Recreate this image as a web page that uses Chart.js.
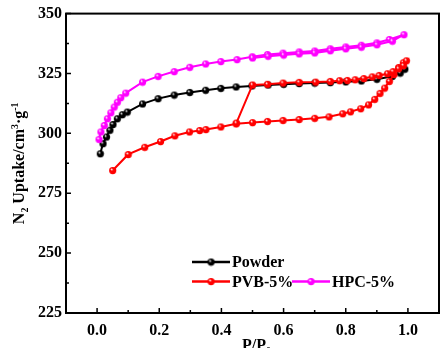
<!DOCTYPE html>
<html>
<head>
<meta charset="utf-8">
<script src="https://cdn.jsdelivr.net/npm/chart.js@4.4.0/dist/chart.umd.min.js"></script>
<style>
    html, body { margin: 0; padding: 0; background: #fff; }
    #wrap { width: 446px; height: 348px; }
</style>
</head>
<body>
<div id="wrap"><canvas id="isothermChart" width="446" height="348"></canvas></div>
<script>
// Powder - adsorption branch
const powderP = [0.01, 0.019, 0.03, 0.041, 0.051, 0.065, 0.081, 0.097, 0.146, 0.196, 0.248, 0.298, 0.349, 0.398, 0.447, 0.498, 0.55, 0.6, 0.65, 0.7, 0.75, 0.8, 0.85, 0.9, 0.95, 0.975, 0.99];
const powderQ = [291.5, 295.7, 298.5, 301.3, 303.7, 306.1, 307.8, 308.9, 312.3, 314.5, 316.0, 317.1, 318.0, 318.8, 319.4, 319.8, 320.2, 320.5, 320.8, 321.0, 321.2, 321.5, 321.9, 322.6, 323.8, 325.2, 326.8];

// PVB-5% - adsorption (lower) then desorption (upper)
const pvbAdsP = [0.05, 0.10, 0.153, 0.204, 0.25, 0.297, 0.33, 0.35, 0.398, 0.447, 0.5, 0.548, 0.598, 0.65, 0.70, 0.746, 0.79, 0.815, 0.848, 0.873, 0.893, 0.91, 0.925, 0.94, 0.955, 0.97, 0.985, 0.995];
const pvbAdsQ = [284.5, 291.2, 294.2, 296.6, 299.0, 300.6, 301.2, 301.6, 302.7, 304.0, 304.5, 305.0, 305.4, 305.8, 306.3, 306.9, 308.2, 309.0, 310.3, 311.9, 314.2, 316.7, 318.9, 321.7, 324.6, 327.5, 329.5, 330.3];
const pvbDesP = [0.985, 0.97, 0.952, 0.934, 0.907, 0.885, 0.858, 0.83, 0.805, 0.78, 0.75, 0.703, 0.65, 0.598, 0.548, 0.5, 0.448];
const pvbDesQ = [328.3, 327.0, 325.8, 324.9, 324.2, 323.6, 322.9, 322.4, 322.1, 322.0, 321.7, 321.4, 321.3, 321.0, 320.5, 320.2, 304.3];

// HPC-5% - adsorption then desorption
const hpcAdsP = [0.006, 0.012, 0.023, 0.033, 0.044, 0.055, 0.065, 0.076, 0.092, 0.146, 0.196, 0.248, 0.298, 0.349, 0.398, 0.45, 0.499, 0.548, 0.598, 0.65, 0.70, 0.75, 0.80, 0.85, 0.9, 0.94, 0.987];
const hpcAdsQ = [297.5, 300.6, 303.3, 306.1, 308.6, 311.0, 313.0, 314.9, 316.8, 321.4, 323.8, 325.8, 327.6, 329.0, 330.0, 330.8, 332.0, 332.9, 333.5, 334.0, 334.4, 335.3, 336.1, 336.8, 337.8, 339.2, 341.2];
const hpcDesP = [0.95, 0.9, 0.85, 0.8, 0.75, 0.7, 0.65, 0.6, 0.55, 0.5];
const hpcDesQ = [338.5, 337.0, 336.0, 335.3, 334.5, 333.6, 333.2, 332.7, 332.2, 331.5];

// Axis ticks
const xTicks = [0, 0.2, 0.4, 0.6, 0.8, 1.0];
const xMinorTicks = [0.1, 0.3, 0.5, 0.7, 0.9];
const yTicks = [225, 250, 275, 300, 325, 350];
const yMinorTicks = [237.5, 262.5, 287.5, 312.5, 337.5];

const serif = "'Liberation Serif', 'Times New Roman', serif";

function toPoints(xs, ys) {
    return xs.map((x, i) => ({ x: x, y: ys[i] }));
}

// Shaded ball marker like the original plot
function makeBall(color, r) {
    const c = document.createElement('canvas');
    c.width = c.height = r * 2 + 2;
    const g = c.getContext('2d');
    const cx = r + 1, cy = r + 1;
    const grad = g.createRadialGradient(cx - r * 0.35, cy - r * 0.4, 0.3, cx, cy, r);
    grad.addColorStop(0, '#ffffff');
    grad.addColorStop(0.35, color);
    grad.addColorStop(1, color);
    g.fillStyle = grad;
    g.beginPath();
    g.arc(cx, cy, r, 0, Math.PI * 2);
    g.fill();
    return c;
}

const series = [
    { label: 'Powder', color: '#000000', data: toPoints(powderP, powderQ), order: 3 },
    { label: 'PVB-5%', color: '#ff0000', data: toPoints(pvbAdsP.concat(pvbDesP), pvbAdsQ.concat(pvbDesQ)), order: 1 },
    { label: 'HPC-5%', color: '#ff00ff', data: toPoints(hpcAdsP.concat(hpcDesP), hpcAdsQ.concat(hpcDesQ)), order: 2 }
];

// Frame and inward ticks
const frameTicks = {
    id: 'frameTicks',
    afterDatasetsDraw(chart) {
        const { ctx, chartArea: a, scales: { x, y } } = chart;
        ctx.save();
        ctx.strokeStyle = '#000';
        ctx.lineWidth = 2;
        ctx.strokeRect(a.left, a.top, a.right - a.left, a.bottom - a.top);
        ctx.lineWidth = 1.5;
        ctx.beginPath();
        xTicks.forEach(v => { const p = x.getPixelForValue(v); ctx.moveTo(p, a.bottom); ctx.lineTo(p, a.bottom - 5); });
        xMinorTicks.forEach(v => { const p = x.getPixelForValue(v); ctx.moveTo(p, a.bottom); ctx.lineTo(p, a.bottom - 3); });
        yTicks.forEach(v => { const p = y.getPixelForValue(v); ctx.moveTo(a.left, p); ctx.lineTo(a.left + 5, p); });
        yMinorTicks.forEach(v => { const p = y.getPixelForValue(v); ctx.moveTo(a.left, p); ctx.lineTo(a.left + 3, p); });
        ctx.stroke();
        ctx.restore();
    }
};

// Axis titles with sub/superscripts
function drawRich(ctx, parts, x, y, size) {
    let cx = x;
    parts.forEach(p => {
        const s = p.sub || p.sup ? size * 0.62 : size;
        ctx.font = 'bold ' + s + 'px ' + serif;
        const dy = p.sub ? size * 0.25 : (p.sup ? -size * 0.4 : 0);
        ctx.fillText(p.t, cx, y + dy);
        cx += ctx.measureText(p.t).width;
    });
    return cx - x;
}
function richWidth(ctx, parts, size) {
    let w = 0;
    parts.forEach(p => {
        const s = p.sub || p.sup ? size * 0.62 : size;
        ctx.font = 'bold ' + s + 'px ' + serif;
        w += ctx.measureText(p.t).width;
    });
    return w;
}

const axisTitles = {
    id: 'axisTitles',
    afterDraw(chart) {
        const { ctx, chartArea: a } = chart;
        ctx.save();
        ctx.fillStyle = '#000';
        ctx.textBaseline = 'alphabetic';
        ctx.textAlign = 'left';
        const xt = [{ t: 'P/P' }, { t: '0', sub: true }];
        const xw = richWidth(ctx, xt, 16);
        drawRich(ctx, xt, (a.left + a.right) / 2 - xw / 2 + 4, 350, 16);

        const yt = [{ t: 'N' }, { t: '2', sub: true }, { t: ' Uptake/cm' }, { t: '3', sup: true }, { t: '\u00B7g' }, { t: '-1', sup: true }];
        const yw = richWidth(ctx, yt, 16);
        ctx.translate(24, (a.top + a.bottom) / 2);
        ctx.rotate(-Math.PI / 2);
        drawRich(ctx, yt, -yw / 2, 0, 16);
        ctx.restore();
    }
};

// Legend inside the plot
const insideLegend = {
    id: 'insideLegend',
    afterDraw(chart) {
        const { ctx, chartArea: a } = chart;
        const rows = [
            [{ i: 0, dx: 126 }],
            [{ i: 1, dx: 126 }, { i: 2, dx: 226 }]
        ];
        ctx.save();
        ctx.font = 'bold 16px ' + serif;
        ctx.textBaseline = 'middle';
        ctx.fillStyle = '#000';
        rows.forEach((row, r) => {
            const yy = a.bottom - 51 + r * 19.5;
            row.forEach(item => {
                const s = series[item.i];
                const x0 = a.left + item.dx;
                ctx.strokeStyle = s.color;
                ctx.lineWidth = 2.5;
                ctx.beginPath();
                ctx.moveTo(x0, yy);
                ctx.lineTo(x0 + 38, yy);
                ctx.stroke();
                ctx.drawImage(balls[item.i], x0 + 19 - balls[item.i].width / 2, yy - balls[item.i].height / 2);
                ctx.fillStyle = '#000';
                ctx.fillText(s.label, x0 + 40, yy + 1);
            });
        });
        ctx.restore();
    }
};

const balls = series.map(s => makeBall(s.color, 3.6));

const ctx = document.getElementById('isothermChart').getContext('2d');
new Chart(ctx, {
    type: 'scatter',
    data: {
        datasets: series.map((s, i) => ({
            label: s.label,
            data: s.data,
            order: s.order,
            showLine: true,
            borderColor: s.color,
            backgroundColor: s.color,
            borderWidth: 2,
            tension: 0,
            pointStyle: balls[i],
            pointRadius: 3.6,
            pointHoverRadius: 3.6
        }))
    },
    options: {
        responsive: false,
        animation: false,
        devicePixelRatio: 1,
        layout: { padding: { left: 0, top: 13, right: 7, bottom: 0 } },
        plugins: {
            legend: { display: false },
            tooltip: { enabled: false }
        },
        scales: {
            x: {
                type: 'linear',
                min: -0.1,
                max: 1.1,
                grid: { display: false, drawTicks: false },
                border: { display: false },
                afterBuildTicks: function(scale) {
                    scale.ticks = xTicks.map(v => ({ value: v }));
                },
                afterFit: function(scale) {
                    scale.height = 35;
                },
                ticks: {
                    padding: 8,
                    color: '#000',
                    maxRotation: 0,
                    font: { family: serif, size: 16, weight: 'bold' },
                    callback: function(value) {
                        return value.toFixed(1);
                    }
                }
            },
            y: {
                type: 'linear',
                min: 225,
                max: 350,
                grid: { display: false, drawTicks: false },
                border: { display: false },
                afterBuildTicks: function(scale) {
                    scale.ticks = yTicks.map(v => ({ value: v }));
                },
                afterFit: function(scale) {
                    scale.width = 66;
                },
                ticks: {
                    padding: 4,
                    color: '#000',
                    font: { family: serif, size: 16, weight: 'bold' }
                }
            }
        }
    },
    plugins: [frameTicks, axisTitles, insideLegend]
});
</script>
</body>
</html>
